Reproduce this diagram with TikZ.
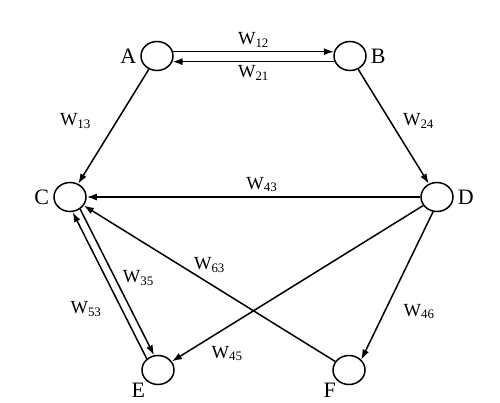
\documentclass[tikz,border=0pt]{standalone}
\usepackage{fontspec}
\setmainfont{Liberation Serif}
\usetikzlibrary{arrows.meta,positioning,shapes.geometric}

\begin{document}
\begin{tikzpicture}[>={Latex[length=10pt,width=7pt]}, line width=1.5pt, on grid,
  state/.style={draw, ellipse, minimum width=32pt, minimum height=29pt, inner sep=0pt},
  every label/.style={font=\fontsize{22}{24}\selectfont, label distance=0pt},
  wlab/.style={font=\fontsize{18.5}{20}\selectfont}]
  \useasboundingbox (0pt,0pt) rectangle (500pt,-403pt);
  \node[state, label=left:A] (A) at (157pt,-56pt) {};
  \node[state, right=193pt of A, label=right:B] (B) {};
  \node[state, below left=141pt and 87pt of A, label=left:C] (C) {};
  \node[state, below right=141pt and 87pt of B, label=right:D] (D) {};
  \node[state, below right=173pt and 88pt of C, label={[inner sep=1pt]below left:E}] (E) {};
  \node[state, below left=173pt and 88pt of D, label={[inner sep=1pt]below left:F}] (F) {};
  \draw[->] (A.15) -- node[above, wlab] {W\textsubscript{12}} (B.165);
  \draw[->] (B.-160) -- node[below, wlab] {W\textsubscript{21}} (A.-20);
  \draw[->] (A) -- node[pos=0.45, left=22pt, wlab] {W\textsubscript{13}} (C);
  \draw[->] (B) -- node[pos=0.45, right=9pt, wlab] {W\textsubscript{24}} (D);
  \draw[->] (D) -- node[pos=0.475, above=1pt, wlab] {W\textsubscript{43}} (C);
  \draw[->] (F) -- node[pos=0.5, above=7pt, wlab] {W\textsubscript{63}} (C);
  % pair between C and E
  \draw[->] (C.-50) -- node[pos=0.47, right=4pt, wlab] {W\textsubscript{35}} (E.105);
  \draw[->] (E.135) -- node[pos=0.34, left=16pt, wlab] {W\textsubscript{53}} (C.-80);
  \draw[->] (D) -- node[pos=0.78, below=15pt, wlab] {W\textsubscript{45}} (E);
  \draw[->] (D.-105) -- node[pos=0.675, right=15pt, wlab] {W\textsubscript{46}} (F.40);
\end{tikzpicture}
\end{document}
